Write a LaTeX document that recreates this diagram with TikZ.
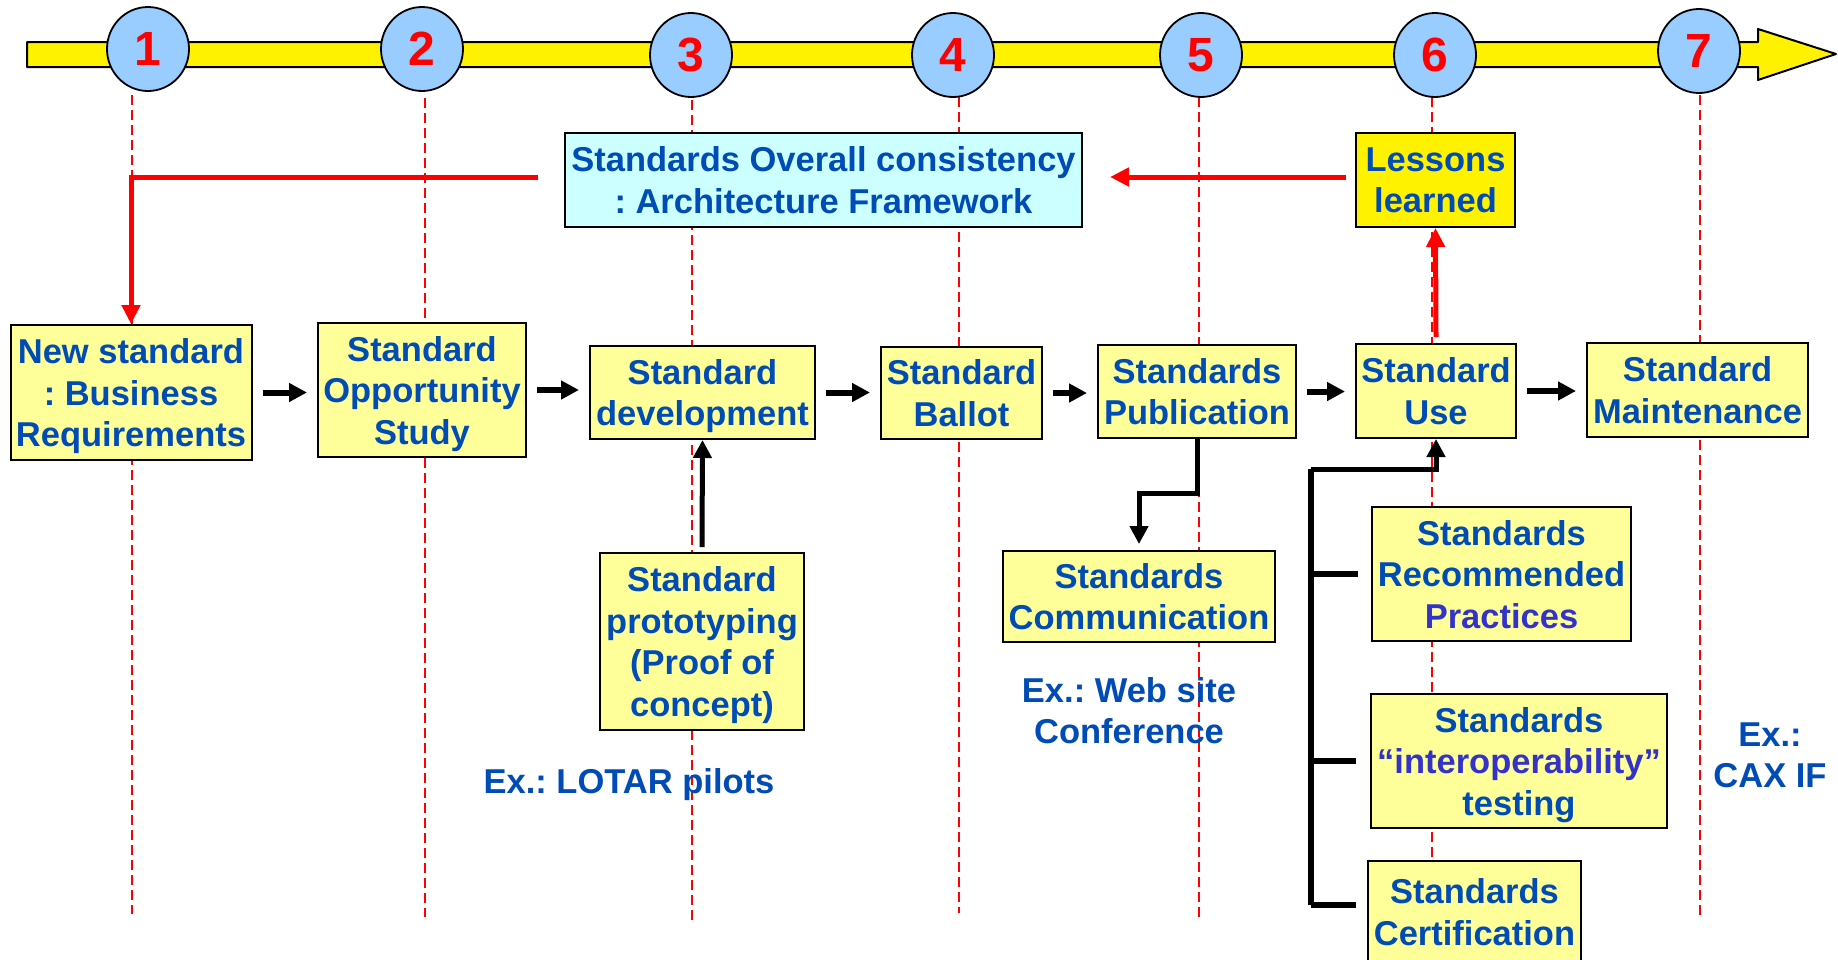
\documentclass[tikz,border=0pt]{standalone}
\usepackage{fontspec}
\setmainfont{Liberation Sans}
\usetikzlibrary{arrows.meta,shapes.geometric}
\definecolor{txtblue}{RGB}{0,76,182}
\definecolor{txtpurple}{RGB}{51,51,204}
\definecolor{boxyellow}{RGB}{255,255,153}
\definecolor{circblue}{RGB}{153,204,255}
\definecolor{archcyan}{RGB}{204,255,255}
\newcommand\bxfont{\fontsize{34.5}{41.5}\selectfont\bfseries\frenchspacing}
\newcommand\numfont{\fontsize{48}{50}\selectfont\bfseries}
\begin{document}
\begin{tikzpicture}[x=1pt,y=-1pt,
  box/.style={draw=black, line width=2pt, fill=boxyellow, inner sep=0pt, align=center, text=txtblue, font=\bxfont, text depth=0pt},
  circ/.style={ellipse, draw=black, line width=1.8pt, fill=circblue, minimum width=82pt, minimum height=84pt, inner sep=0pt, text=red, font=\numfont},
  guide/.style={draw=red, line width=1.6pt, dash pattern=on 10pt off 5pt},
  redarrow/.style={draw=red, line width=5pt, -{Triangle[width=18pt,length=19pt]}},
  flowarrow/.style={draw=black, line width=6pt, shorten <=10pt, shorten >=10pt, -{Triangle[width=18pt,length=18pt]}},
  blkarrow/.style={draw=black, line width=5pt, line join=miter, -{Triangle[width=18pt,length=18pt]}},
  blkline/.style={draw=black, line width=5.5pt, line join=miter},
  note/.style={text=txtblue, font=\bxfont, align=center, inner sep=0pt, text depth=0pt}]
\useasboundingbox (0,0) rectangle (1838,959);
\fill[white] (0,0) rectangle (1838,959);

% timeline
\draw[line width=2pt, fill=yellow, line join=round] (27,42) -- (1758,42) -- (1758,29) -- (1836,54) -- (1758,80) -- (1758,67) -- (27,67) -- cycle;

% guide lines
\draw[guide] (132,95) -- (132,914);
\draw[guide] (425,98) -- (425,917);
\draw[guide] (692,100) -- (692,922);
\draw[guide] (959,97) -- (959,913);
\draw[guide] (1199,97) -- (1199,917);
\draw[guide] (1432,97) -- (1432,861);
\draw[guide] (1700,95) -- (1700,919);

% phase circles
\node[circ] (c1) at (148,49) {1};
\node[circ] (c2) at (422,49) {2};
\node[circ] (c3) at (691,55) {3};
\node[circ] (c4) at (953,55) {4};
\node[circ] (c5) at (1201,55) {5};
\node[circ] (c6) at (1435,55) {6};
\node[circ] (c7) at (1699,51) {7};

% upper boxes
\node[box, fill=archcyan, minimum width=517pt, minimum height=94pt] (arch) at (823.5,180) {Standards Overall consistency\\: Architecture Framework};
\node[box, fill=yellow, minimum width=159pt, minimum height=94pt] (lessons) at (1435.5,180) {Lessons\\learned};

% main row
\node[box, minimum width=241pt, minimum height=135pt] (nb) at (131,392.5) {New standard\\: Business\\Requirements};
\node[box, minimum width=208pt, minimum height=134pt] (opp) at (422,390) {Standard\\Opportunity\\Study};
\node[box, minimum width=225pt, minimum height=93pt] (dev) at (702.5,392.5) {Standard\\development};
\node[box, minimum width=161pt, minimum height=92pt] (ballot) at (961.5,393) {Standard\\Ballot};
\node[box, minimum width=198pt, minimum height=93pt] (pub) at (1197,391.5) {Standards\\Publication};
\node[box, minimum width=160pt, minimum height=94pt] (use) at (1436,391) {Standard\\Use};
\node[box, minimum width=221pt, minimum height=94pt] (maint) at (1697.5,390) {Standard\\Maintenance};

% lower boxes
\node[box, minimum width=204pt, minimum height=177pt] (proto) at (702,641.5) {Standard\\prototyping\\(Proof of\\concept)};
\node[box, minimum width=272pt, minimum height=91pt] (comm) at (1139,596.5) {Standards\\Communication};
\node[box, minimum width=259pt, minimum height=134pt] (rec) at (1501.5,574) {Standards\\Recommended\\\textcolor{txtpurple}{Practices}};
\node[box, minimum width=296pt, minimum height=134pt, text depth=-7pt] (interop) at (1519,761) {Standards\\\textcolor{txtpurple}{“interoperability”}\\testing};
\node[box, minimum width=213pt, minimum height=102pt] (cert) at (1474.5,912) {Standards\\Certification};

% notes
\node[note, anchor=base] (exlotar) at (629,793) {Ex.: LOTAR pilots};
\node[note] (exweb) at (1129,710.5) {Ex.: Web site\\Conference};
\node[note] (excax) at (1770,755) {Ex.:\\CAX IF};

% red feedback arrows
\draw[redarrow] ([xshift=-26pt,yshift=3pt]arch.west) -| (nb.north);
\draw[redarrow] ([xshift=-9pt,yshift=3pt]lessons.west) -- ([xshift=27pt,yshift=3pt]arch.east);
\draw[redarrow] ([yshift=6pt]use.north) -- (lessons.south);

% flow arrows
\draw[flowarrow] (nb.east) -- (nb.east -| opp.west);
\draw[flowarrow] (opp.east) -- (opp.east -| dev.west);
\draw[flowarrow] (dev.east) -- (dev.east -| ballot.west);
\draw[flowarrow] (ballot.east) -- (ballot.east -| pub.west);
\draw[flowarrow] (pub.east) -- (pub.east -| use.west);
\draw[flowarrow] (use.east) -- (use.east -| maint.west);

% prototyping to development
\draw[blkarrow] ([yshift=5pt]proto.north) -- (dev.south);

% publication to communication
\draw[blkarrow] (pub.south) -- ++(0,54) -| ([yshift=6pt]comm.north);

% feeding bus into standard use
\coordinate (bustop) at (1311,469);
\coordinate (busbot) at (1311,905);
\draw[blkline] (busbot) -- (bustop);
\draw[blkarrow] (bustop) -| (use.south);
\draw[blkline] (bustop |- rec.west) -- ([xshift=-13pt]rec.west);
\draw[blkline] (bustop |- interop.west) -- ([xshift=-14pt]interop.west);
\draw[blkline] (busbot) -- ([xshift=-11pt]cert.west |- busbot);
\end{tikzpicture}
\end{document}
